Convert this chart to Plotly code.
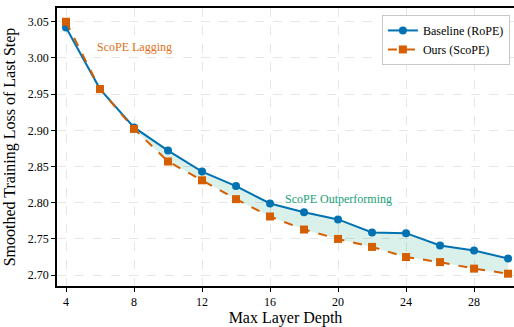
import plotly.graph_objects as go

depth = [4, 6, 8, 10, 12, 14, 16, 18, 20, 22, 24, 26, 28, 30]
baseline = [3.042, 2.957, 2.904, 2.872, 2.843, 2.823, 2.799, 2.787, 2.777, 2.759, 2.758, 2.741, 2.734, 2.723]
ours = [3.050, 2.957, 2.902, 2.857, 2.831, 2.805, 2.781, 2.763, 2.750, 2.739, 2.725, 2.718, 2.709, 2.702]
x_ticks = [4, 8, 12, 16, 20, 24, 28]
y_ticks = [2.70, 2.75, 2.80, 2.85, 2.90, 2.95, 3.00, 3.05]

BLUE = "#0072B2"
ORANGE = "#D55E00"
TEAL = "#1a9e77"
FONT = "Liberation Serif"

# fill region where ours < baseline
fx = [d for d, b, o in zip(depth, baseline, ours) if b >= o]
fb = [b for b, o in zip(baseline, ours) if b >= o]
fo = [o for b, o in zip(baseline, ours) if b >= o]

fig = go.Figure()
fig.add_trace(go.Scatter(x=fx + fx[::-1], y=fb + fo[::-1], fill="toself",
                         fillcolor="rgba(0,158,115,0.15)", line=dict(width=0),
                         hoverinfo="skip", showlegend=False, mode="lines"))
fig.add_trace(go.Scatter(x=depth, y=baseline, name="Baseline (RoPE)", mode="lines+markers",
                         line=dict(color=BLUE, width=2),
                         marker=dict(symbol="circle", size=8, color=BLUE)))
fig.add_trace(go.Scatter(x=depth, y=ours, name="Ours (ScoPE)", mode="lines+markers",
                         line=dict(color=ORANGE, width=2, dash="dash"),
                         marker=dict(symbol="square", size=8, color=ORANGE)))

fig.add_annotation(x=8, y=3.015, text="ScoPE Lagging", showarrow=False,
                   font=dict(family=FONT, size=12, color="#E07020"))
fig.add_annotation(x=20, y=2.805, text="ScoPE Outperforming", showarrow=False,
                   font=dict(family=FONT, size=12, color=TEAL))

grid = dict(showgrid=True, gridcolor="#e6e6e6", griddash="dash", gridwidth=1)
fig.update_xaxes(range=[3.47, 30.35], tickvals=x_ticks, ticktext=[str(t) for t in x_ticks],
                 showline=True, linecolor="black", linewidth=1.5, mirror=True,
                 ticks="outside", ticklen=4, tickcolor="black",
                 tickfont=dict(family=FONT, size=12, color="black"),
                 title=dict(text="Max Layer Depth", font=dict(family=FONT, size=16, color="black"), standoff=6),
                 automargin=False, zeroline=False, **grid)
fig.update_yaxes(range=[2.685, 3.069], tickvals=y_ticks, ticktext=[f"{t:.2f}" for t in y_ticks],
                 showline=True, linecolor="black", linewidth=1.5,
                 ticks="outside", ticklen=4, tickcolor="black",
                 tickfont=dict(family=FONT, size=12, color="black"),
                 title=dict(text="Smoothed Training Loss of Last Step", font=dict(family=FONT, size=16, color="black"), standoff=8),
                 automargin=False, zeroline=False, **grid)

fig.update_layout(width=514, height=327, margin=dict(l=57, r=0, t=8, b=41, autoexpand=False),
                  paper_bgcolor="white", plot_bgcolor="white",
                  font=dict(family=FONT, color="black"),
                  legend=dict(x=0.991, y=0.975, xanchor="right", yanchor="top",
                              bgcolor="white", bordercolor="#c8c8c8", borderwidth=1,
                              font=dict(family=FONT, size=12, color="black"),
                              tracegroupgap=0, itemwidth=30))

fig.write_html("out.html", config={"displayModeBar": False},
               post_script="document.body.style.margin='0';")
